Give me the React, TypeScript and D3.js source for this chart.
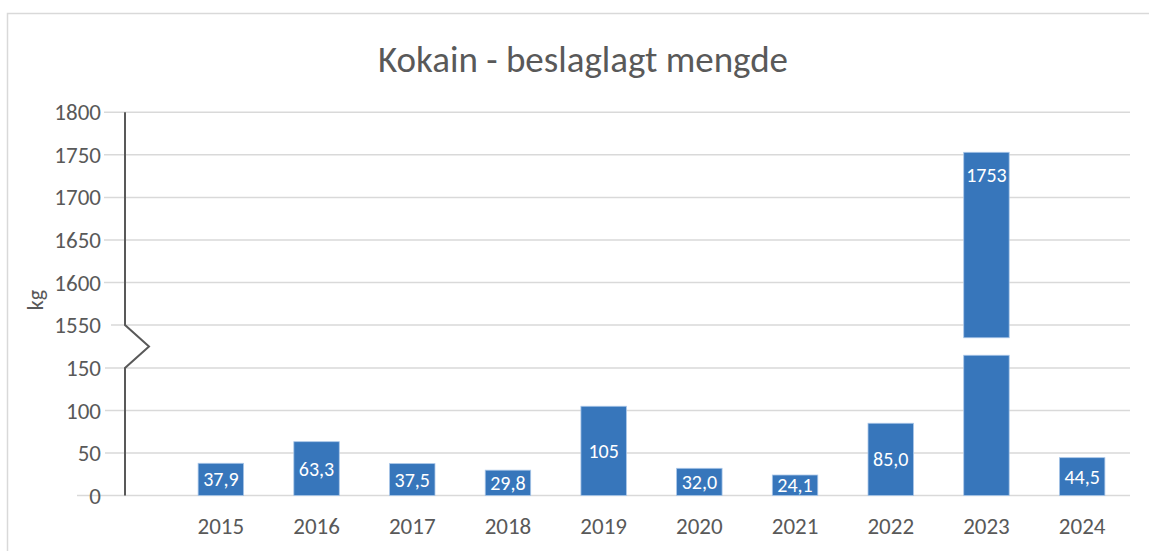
import React, { useRef, useEffect } from 'react';
import * as d3 from 'd3';

// Data
const years = ['2015', '2016', '2017', '2018', '2019', '2020', '2021', '2022', '2023', '2024'];
const values = [37.9, 63.3, 37.5, 29.8, 105, 32.0, 24.1, 85.0, 1753, 44.5];
const valueLabels = ['37,9', '63,3', '37,5', '29,8', '105', '32,0', '24,1', '85,0', '1753', '44,5'];
const lowerTicks = [0, 50, 100, 150];
const upperTicks = [1550, 1600, 1650, 1700, 1750, 1800];
// where a bar that is too tall is cut (lower piece top / upper piece bottom)
const breakLow = 165;
const breakHigh = 1535;

const FONT = "Carlito, 'Open Sans', sans-serif";

const App = () => {
  const svgRef = useRef<SVGSVGElement | null>(null);

  useEffect(() => {
    if (!svgRef.current) return;
    const svg = d3.select(svgRef.current);
    svg.selectAll('*').remove();

    const textColor = '#595959';
    const gridColor = '#d9d9d9';
    const barColor = '#3776bb';

    // chart frame (left and top edges visible)
    svg.append('rect')
      .attr('x', 7.5).attr('y', 13.5)
      .attr('width', 1160).attr('height', 560)
      .attr('fill', '#ffffff')
      .attr('stroke', gridColor)
      .attr('stroke-width', 1.5);

    const x = d3.scaleBand()
      .domain(years)
      .range([173, 1130])
      .paddingInner(0.525)
      .paddingOuter(0.2625);

    const yLow = d3.scaleLinear().domain([0, 150]).range([495.5, 368]);
    const yHigh = d3.scaleLinear().domain([1550, 1800]).range([325, 112.3]);

    const axisX = 125;

    // gridlines
    const grid = svg.append('g');
    lowerTicks.forEach(t => {
      grid.append('line')
        .attr('x1', t === 0 ? 77 : 105).attr('x2', 1130)
        .attr('y1', yLow(t)).attr('y2', yLow(t))
        .attr('stroke', gridColor).attr('stroke-width', 1.5);
    });
    upperTicks.forEach(t => {
      grid.append('line')
        .attr('x1', t === 1550 ? 111 : 104).attr('x2', 1130)
        .attr('y1', yHigh(t)).attr('y2', yHigh(t))
        .attr('stroke', gridColor).attr('stroke-width', 1.5);
    });

    // tick labels
    const tickG = svg.append('g')
      .attr('font-family', FONT)
      .attr('font-size', 23)
      .attr('fill', textColor)
      .attr('text-anchor', 'end');
    lowerTicks.forEach(t => {
      tickG.append('text').attr('x', 101).attr('y', yLow(t)).attr('dy', '0.35em').text(t);
    });
    upperTicks.forEach(t => {
      tickG.append('text').attr('x', 101).attr('y', yHigh(t)).attr('dy', '0.35em').text(t);
    });

    // bars
    const bars = svg.append('g');
    const addLabel = (cx: number, cy: number, txt: string) => {
      bars.append('text')
        .attr('x', cx)
        .attr('y', cy)
        .attr('dy', '0.35em')
        .attr('text-anchor', 'middle')
        .attr('font-family', FONT)
        .attr('font-size', 20)
        .attr('fill', '#ffffff')
        .text(txt);
    };
    years.forEach((yr, i) => {
      const v = values[i];
      const bx = x(yr) as number;
      const bw = x.bandwidth();
      if (v <= 150) {
        bars.append('rect')
          .attr('x', bx).attr('y', yLow(v))
          .attr('width', bw).attr('height', yLow(0) - yLow(v))
          .attr('fill', barColor)
          .attr('stroke', '#a9c6e8').attr('stroke-width', 0.8);
        addLabel(bx + bw / 2, (yLow(v) + yLow(0)) / 2, valueLabels[i]);
      } else {
        bars.append('rect')
          .attr('x', bx).attr('y', yLow(breakLow))
          .attr('width', bw).attr('height', yLow(0) - yLow(breakLow))
          .attr('fill', barColor)
          .attr('stroke', '#a9c6e8').attr('stroke-width', 0.8);
        bars.append('rect')
          .attr('x', bx).attr('y', yHigh(v))
          .attr('width', bw).attr('height', yHigh(breakHigh) - yHigh(v))
          .attr('fill', barColor)
          .attr('stroke', '#a9c6e8').attr('stroke-width', 0.8);
        addLabel(bx + bw / 2, yHigh(v) + 23, valueLabels[i]);
      }
    });

    // broken y axis line
    const axisPath = d3.path();
    axisPath.moveTo(axisX, yHigh(1800));
    axisPath.lineTo(axisX, yHigh(1550));
    axisPath.lineTo(axisX + 24, (yHigh(1550) + yLow(150)) / 2);
    axisPath.lineTo(axisX, yLow(150));
    axisPath.lineTo(axisX, yLow(0));
    svg.append('path')
      .attr('d', axisPath.toString())
      .attr('fill', 'none')
      .attr('stroke', textColor)
      .attr('stroke-width', 2);

    // x labels
    svg.append('g')
      .attr('font-family', FONT)
      .attr('font-size', 23)
      .attr('fill', textColor)
      .attr('text-anchor', 'middle')
      .selectAll('text')
      .data(years)
      .enter()
      .append('text')
      .attr('x', d => (x(d) as number) + x.bandwidth() / 2)
      .attr('y', 526)
      .attr('dy', '0.35em')
      .text(d => d);

    // y axis title
    svg.append('text')
      .attr('transform', 'translate(35, 300) rotate(-90)')
      .attr('text-anchor', 'middle')
      .attr('dy', '0.35em')
      .attr('font-family', FONT)
      .attr('font-size', 22)
      .attr('fill', textColor)
      .text('kg');

    // chart title
    svg.append('text')
      .attr('x', 583)
      .attr('y', 59)
      .attr('dy', '0.35em')
      .attr('text-anchor', 'middle')
      .attr('font-family', FONT)
      .attr('font-size', 37)
      .attr('fill', textColor)
      .text('Kokain - beslaglagt mengde');
  }, []);

  return (
    <div style={{ position: 'absolute', left: 0, top: 0, width: 1149, height: 551, overflow: 'hidden', background: '#ffffff' }}>
      <svg ref={svgRef} width={1149} height={551} style={{ display: 'block' }}></svg>
    </div>
  );
};

export default App;
